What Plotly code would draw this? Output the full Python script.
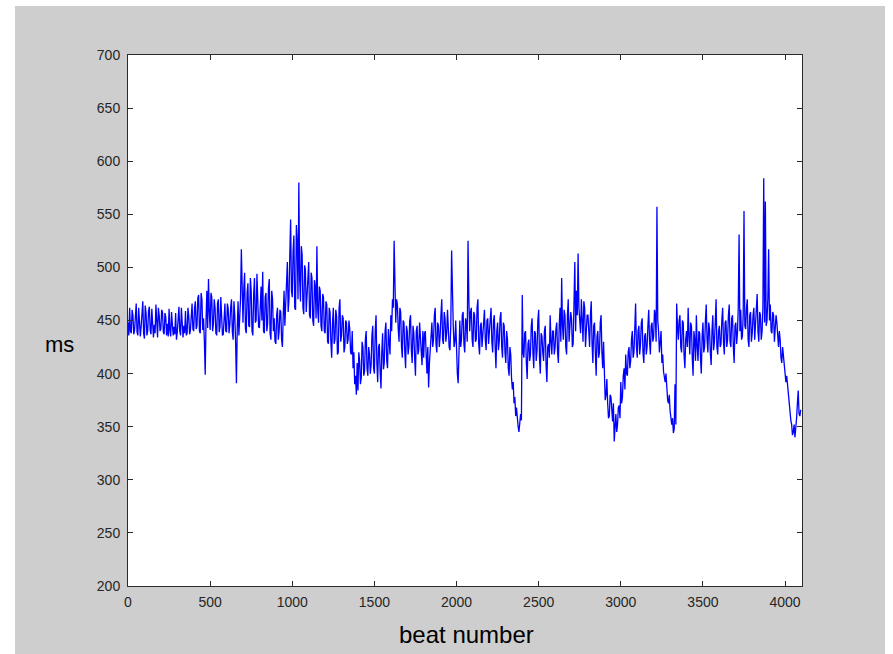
import plotly.graph_objects as go

# RR intervals (ms) read at every 10th beat ...
beat_step = 10
rr_ms = [
    # 0-190
    448, 462, 438, 455, 441, 466, 436, 452, 444, 468, 433, 457, 440, 463, 437, 450, 446, 465, 434, 455,
    # 200-390
    442, 458, 437, 453, 447, 461, 435, 449, 444, 457, 439, 463, 436, 451, 445, 459, 438, 454, 441, 466,
    # 400-590
    440, 468, 445, 474, 438, 470, 452, 399, 478, 489, 441, 472, 447, 462, 436, 470, 444, 458, 437, 466,
    # 600-790
    439, 461, 446, 470, 432, 455, 391, 468, 452, 517, 448, 495, 438, 485, 444, 478, 436, 490, 450, 472,
    # 800-990
    443, 482, 496, 438, 476, 447, 489, 432, 470, 452, 428, 462, 440, 458, 425, 478, 462, 505, 470, 545,
    # 1000-1190
    472, 530, 460, 525, 580, 468, 512, 456, 498, 470, 505, 452, 490, 445, 482, 520, 448, 478, 440, 472,
    # 1200-1390
    438, 465, 428, 458, 415, 462, 432, 454, 420, 470, 436, 452, 425, 448, 432, 442, 418, 405, 390, 380,
    # 1400-1590
    384, 412, 396, 425, 402, 440, 398, 418, 408, 445, 400, 455, 392, 428, 386, 438, 410, 448, 405, 432,
    # 1600-1790
    455, 470, 525, 448, 465, 430, 458, 415, 448, 405, 440, 425, 455, 410, 438, 398, 445, 422, 435, 408,
    # 1800-1990
    415, 440, 400, 387, 425, 448, 432, 462, 420, 445, 435, 470, 428, 452, 438, 440, 422, 516, 445, 430,
    # 2000-2190
    418, 391, 450, 432, 458, 420, 448, 525, 440, 462, 425, 455, 432, 470, 418, 448, 436, 460, 422, 452,
    # 2200-2390
    438, 462, 420, 455, 405, 448, 430, 458, 415, 445, 410, 432, 398, 418, 385, 372, 360, 352, 345, 362,
    # 2400-2590
    474, 415, 440, 395, 432, 418, 452, 405, 438, 422, 460, 400, 435, 412, 445, 392, 428, 455, 418, 440,
    # 2600-2790
    425, 448, 410, 462, 490, 432, 455, 418, 470, 440, 452, 428, 505, 478, 513, 448, 470, 430, 462, 440,
    # 2800-2990
    455, 425, 468, 410, 448, 398, 440, 420, 455, 405, 395, 380, 372, 360, 378, 355, 336, 362, 352, 370,
    # 3000-3190
    392, 378, 405, 418, 398, 425, 412, 440, 420, 466, 415, 445, 428, 452, 410, 438, 425, 460, 418, 448,
    # 3200-3390
    435, 455, 557, 440, 428, 410, 402, 392, 385, 372, 365, 352, 344, 390, 466, 432, 455, 420, 448, 405,
    # 3400-3590
    440, 462, 418, 445, 398, 432, 455, 412, 438, 400, 448, 425, 465, 420, 442, 408, 455, 430, 470, 418,
    # 3600-3790
    445, 428, 462, 418, 450, 432, 465, 425, 455, 410, 448, 438, 531, 460, 435, 553, 442, 470, 425, 458,
    # 3800-3990
    438, 462, 448, 475, 430, 455, 440, 584, 562, 450, 517, 465, 438, 455, 440, 448, 425, 432, 410, 418,
    # 4000-4090
    402, 398, 380, 362, 352, 345, 340, 358, 384, 360,
]

# ... and at the beat halfway between those (5, 15, 25, ...)
rr_ms_mid = [
    436, 440, 460, 437, 458, 439, 462, 435, 460, 438, 464, 436, 459, 441, 461, 434, 438, 443, 462, 440,
    460, 439, 457, 436, 435, 440, 458, 436, 437, 432, 459, 440, 462, 434, 438, 436, 462, 437, 458, 442,
    462, 442, 471, 440, 476, 441, 430, 450, 443, 458, 476, 440, 470, 438, 466, 439, 472, 436, 463, 440,
    466, 438, 462, 440, 468, 430, 442, 436, 470, 455, 480, 442, 476, 445, 490, 440, 475, 448, 494, 444,
    478, 450, 440, 472, 440, 480, 438, 478, 440, 430, 455, 432, 460, 432, 455, 445, 488, 458, 512, 478,
    515, 462, 540, 470, 488, 520, 462, 502, 458, 492, 455, 495, 450, 488, 452, 460, 482, 445, 475, 440,
    468, 430, 462, 430, 448, 428, 460, 418, 462, 430, 455, 420, 450, 428, 450, 420, 440, 420, 398, 410,
    420, 390, 430, 398, 432, 405, 425, 400, 436, 405, 440, 410, 425, 402, 420, 404, 440, 412, 442, 418,
    440, 462, 455, 470, 442, 462, 425, 450, 420, 445, 418, 450, 422, 445, 415, 440, 418, 448, 412, 440,
    438, 418, 425, 410, 445, 425, 455, 428, 448, 425, 455, 432, 458, 430, 460, 425, 445, 460, 425, 450,
    400, 428, 425, 455, 428, 452, 430, 470, 458, 432, 458, 430, 462, 428, 445, 425, 455, 432, 450, 428,
    455, 430, 450, 425, 440, 422, 452, 425, 448, 420, 440, 405, 425, 395, 392, 378, 368, 350, 352, 356,
    420, 438, 410, 428, 412, 445, 420, 440, 412, 450, 415, 438, 420, 440, 408, 425, 415, 430, 440, 418,
    442, 420, 445, 430, 445, 460, 425, 455, 430, 458, 425, 462, 440, 455, 462, 438, 440, 468, 425, 455,
    430, 455, 428, 445, 420, 435, 415, 448, 420, 430, 375, 395, 358, 380, 360, 372, 350, 345, 368, 358,
    372, 398, 385, 400, 420, 405, 432, 415, 442, 425, 440, 418, 448, 420, 435, 418, 445, 430, 445, 430,
    460, 430, 450, 420, 440, 418, 395, 400, 375, 380, 355, 358, 348, 352, 445, 450, 425, 450, 418, 432,
    425, 435, 448, 415, 440, 412, 425, 440, 415, 435, 420, 450, 432, 448, 420, 440, 422, 448, 425, 440,
    425, 450, 430, 448, 425, 455, 430, 452, 425, 445, 428, 462, 440, 432, 455, 445, 462, 432, 455, 430,
    455, 432, 465, 440, 458, 432, 462, 448, 445, 470, 450, 440, 458, 430, 455, 428, 440, 415, 425, 405,
    392, 388, 368, 356, 342, 352, 348, 372, 362, 366,
]

# interleave both readings into one beat-ordered series
beats, rr = [], []
for i, (a, b) in enumerate(zip(rr_ms, rr_ms_mid)):
    beats += [i * beat_step, i * beat_step + beat_step // 2]
    rr += [a, b]

x_ticks = [0, 500, 1000, 1500, 2000, 2500, 3000, 3500, 4000]
y_ticks = [200, 250, 300, 350, 400, 450, 500, 550, 600, 650, 700]

W, H = 893, 654
L, R, T, B = 128, 802, 55, 586  # plot area edges in pixels
pw, ph = R - L, B - T


def px_to_paper_x(px):
    return (px - L) / pw


def px_to_paper_y(py):
    return (B - py) / ph


fig = go.Figure()
fig.add_trace(go.Scatter(
    x=beats, y=rr, mode="lines",
    line=dict(color="#0000ff", width=1.3),
    hoverinfo="skip", showlegend=False,
))

tick_font = dict(family="Liberation Sans Narrow, Arial Narrow, Liberation Sans, Arial", size=14, color="#262626")
axis_common = dict(
    showline=True, linecolor="#2b2b2b", linewidth=1, mirror="allticks",
    ticks="inside", ticklen=5, tickcolor="#2b2b2b", tickwidth=1,
    showgrid=False, zeroline=False, tickfont=tick_font,
)

fig.update_layout(
    width=W, height=H,
    margin=dict(l=L, r=W - R, t=T, b=H - B),
    paper_bgcolor="white", plot_bgcolor="white",
    xaxis=dict(range=[0, 4103], tickvals=x_ticks, ticklabelstandoff=3, **axis_common),
    yaxis=dict(range=[200, 700], tickvals=y_ticks, ticklabelstandoff=4, **axis_common),
    shapes=[
        # grey figure window
        dict(type="rect", xref="paper", yref="paper", layer="below",
             x0=px_to_paper_x(15), x1=px_to_paper_x(885),
             y0=px_to_paper_y(654), y1=px_to_paper_y(6),
             fillcolor="#cecece", line=dict(width=0)),
        # white axes area
        dict(type="rect", xref="paper", yref="paper", layer="below",
             x0=0, x1=1, y0=0, y1=1,
             fillcolor="white", line=dict(width=0)),
    ],
    annotations=[
        dict(text="ms", xref="paper", yref="paper",
             x=px_to_paper_x(59), y=px_to_paper_y(345),
             xanchor="center", yanchor="middle", showarrow=False,
             font=dict(family="Liberation Sans, Arial", size=22, color="black")),
        dict(text="beat number", xref="paper", yref="paper",
             x=px_to_paper_x(466), y=px_to_paper_y(634),
             xanchor="center", yanchor="middle", showarrow=False,
             font=dict(family="Liberation Sans, Arial", size=24, color="black")),
    ],
)

fig.write_html("out.html")
